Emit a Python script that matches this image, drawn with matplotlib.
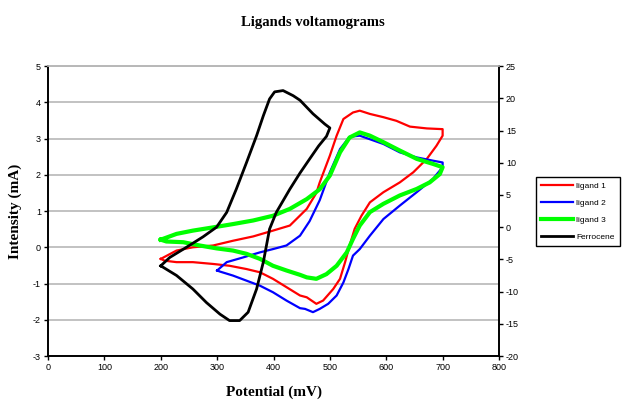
import matplotlib.pyplot as plt

# potential (mV) / intensity (mA)
ligand1_x = [200, 228, 257, 293, 328, 364, 399, 429, 459, 476, 482, 500, 512, 524, 541, 553,
             571, 595, 618, 642, 672, 700, 700, 689, 672, 648, 624, 595, 571, 556, 544, 535,
             527, 518, 506, 488, 476, 459, 447, 423, 399, 376, 352, 322, 293, 257, 228, 207, 200]
ligand1_y = [-0.32, -0.09, 0.0, 0.05, 0.18, 0.30, 0.46, 0.60, 1.06, 1.50, 1.79, 2.53, 3.08, 3.54,
             3.72, 3.77, 3.68, 3.59, 3.49, 3.33, 3.28, 3.26, 3.08, 2.80, 2.44, 2.07, 1.79, 1.52,
             1.24, 0.87, 0.51, 0.05, -0.41, -0.87, -1.15, -1.47, -1.56, -1.38, -1.33, -1.10,
             -0.87, -0.69, -0.60, -0.51, -0.46, -0.41, -0.41, -0.37, -0.32]

ligand2_x = [300, 317, 346, 376, 399, 423, 447, 464, 482, 500, 518, 535, 553, 595, 624, 654,
             683, 700, 700, 683, 654, 624, 595, 571, 553, 541, 533, 524, 512, 497, 482, 470,
             456, 447, 423, 399, 376, 352, 328, 305, 300]
ligand2_y = [-0.64, -0.41, -0.28, -0.14, -0.05, 0.05, 0.32, 0.72, 1.30, 2.07, 2.71, 3.05, 3.08,
             2.85, 2.62, 2.48, 2.39, 2.34, 2.21, 1.89, 1.52, 1.15, 0.78, 0.32, -0.05, -0.23,
             -0.60, -0.97, -1.33, -1.56, -1.70, -1.79, -1.70, -1.68, -1.47, -1.24, -1.06, -0.92,
             -0.78, -0.67, -0.64]

ligand3_x = [200, 228, 257, 293, 328, 364, 399, 429, 459, 482, 500, 518, 535, 553, 571, 595,
             624, 654, 683, 700, 695, 677, 654, 624, 595, 571, 553, 541, 530, 512, 494, 476,
             459, 447, 423, 399, 376, 352, 328, 299, 269, 240, 210, 200]
ligand3_y = [0.21, 0.37, 0.46, 0.55, 0.64, 0.74, 0.87, 1.06, 1.33, 1.60, 1.98, 2.62, 3.03, 3.17,
             3.08, 2.90, 2.67, 2.44, 2.30, 2.21, 2.02, 1.79, 1.61, 1.43, 1.20, 0.97, 0.60, 0.23,
             -0.14, -0.51, -0.74, -0.87, -0.83, -0.76, -0.64, -0.51, -0.32, -0.18, -0.09, -0.03,
             0.05, 0.14, 0.16, 0.21]

# ferrocene is plotted against the secondary axis
ferrocene_x = [200, 228, 257, 281, 305, 322, 340, 355, 370, 382, 393, 405, 429, 447, 465, 480,
               494, 500, 491, 470, 447, 435, 417, 402, 393, 382, 370, 352, 334, 317, 299, 275,
               246, 216, 200]
ferrocene_y = [-6.0, -7.5, -9.6, -11.7, -13.5, -14.5, -14.5, -13.2, -9.6, -5.4, -0.3, 2.3, 5.9,
               8.4, 10.7, 12.6, 14.1, 15.4, 16.0, 17.6, 19.7, 20.4, 21.2, 21.0, 19.9, 17.3, 14.2,
               10.0, 5.9, 2.3, 0.0, -1.5, -3.1, -4.7, -6.0]

x_ticks = list(range(0, 801, 100))
left_ticks = list(range(-3, 6))
right_ticks = list(range(-20, 26, 5))

serif = 'Liberation Serif'
sans = 'Liberation Sans'
plt.rcParams['axes.unicode_minus'] = False

fig = plt.figure(figsize=(6.25, 4.03), dpi=100)
ax = fig.add_axes([0.0768, 0.1166, 0.7216, 0.7194])
ax2 = ax.twinx()

l1, = ax.plot(ligand1_x, ligand1_y, color='#ff0000', lw=1.6, label='ligand 1')
l2, = ax.plot(ligand2_x, ligand2_y, color='#0000ff', lw=1.6, label='ligand 2')
l3, = ax.plot(ligand3_x, ligand3_y, color='#00ff00', lw=3, label='ligand 3')
l4, = ax2.plot(ferrocene_x, ferrocene_y, color='black', lw=2, label='Ferrocene')

ax.set_xlim(0, 800)
ax.set_ylim(-3, 5)
ax2.set_ylim(-20, 25)
ax.set_xticks(x_ticks)
ax.set_yticks(left_ticks)
ax2.set_yticks(right_ticks)

ax.yaxis.grid(True, color='#b8b8b8', lw=1.2)
ax.set_axisbelow(True)

for a in (ax, ax2):
    a.tick_params(labelsize=6.5, length=3, width=1, direction='out', pad=2)
    for lab in a.get_xticklabels() + a.get_yticklabels():
        lab.set_fontfamily(sans)
    for side in ('left', 'bottom', 'right'):
        a.spines[side].set_linewidth(1.2)
    a.spines['top'].set_color('#b8b8b8')
    a.spines['top'].set_linewidth(1.2)

ax.set_xlabel('Potential (mV)', fontsize=11, fontweight='bold', family=serif, labelpad=10)
ax.set_ylabel('Intensity (mA)', fontsize=11, fontweight='bold', family=serif, labelpad=8)
fig.suptitle('Ligands voltamograms', x=0.5, y=0.96, fontsize=10.5, fontweight='bold', family=serif)

leg = fig.legend(handles=[l1, l2, l3, l4], loc='center left', bbox_to_anchor=(0.857, 0.475),
                 fancybox=False, edgecolor='black', framealpha=1, handlelength=3.9,
                 handletextpad=0.4, borderpad=0.6, borderaxespad=0, labelspacing=1.1,
                 prop={'family': sans, 'size': 6})
leg.get_frame().set_linewidth(1)

fig.savefig('out.png', dpi=100)
